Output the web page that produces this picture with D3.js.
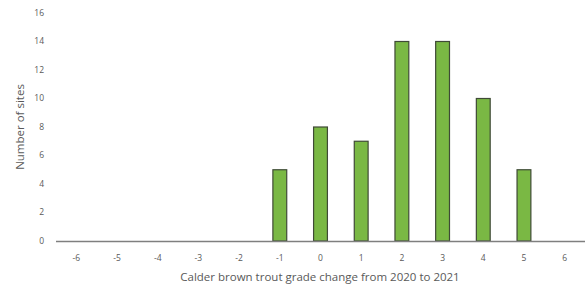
<!DOCTYPE html>
<html>
<head>
<meta charset="utf-8">
<script src="https://cdn.jsdelivr.net/npm/d3@7"></script>
<style>
  body { margin: 0; background: #fff; }
  svg text { font-family: "Open Sans", "Liberation Sans", sans-serif; fill: #595959; }
</style>
</head>
<body>
<div id="chart"></div>
<script>
// grade change categories and site counts
const categories = ["-6", "-5", "-4", "-3", "-2", "-1", "0", "1", "2", "3", "4", "5", "6"];
const siteCounts = [0, 0, 0, 0, 0, 5, 8, 7, 14, 14, 10, 5, 0];
const yTicks = [0, 2, 4, 6, 8, 10, 12, 14, 16];

const width = 585, height = 289;
const margin = {top: 13, right: 0, bottom: 48, left: 56};

const svg = d3.select("#chart").append("svg")
  .attr("width", width)
  .attr("height", height);

const x = d3.scaleBand()
  .domain(categories)
  .range([margin.left, width - margin.right])
  .paddingInner(0.66)
  .paddingOuter(0.33);

// band used for tick label positions (full step)
const xStep = d3.scaleBand()
  .domain(categories)
  .range([margin.left, width - margin.right]);

const y = d3.scaleLinear()
  .domain([0, 16])
  .range([height - margin.bottom, margin.top]);

// y tick labels (no axis line)
svg.append("g")
  .selectAll("text")
  .data(yTicks)
  .join("text")
  .attr("x", 44)
  .attr("y", d => y(d))
  .attr("dy", "0.35em")
  .attr("text-anchor", "end")
  .style("font-size", "8.5px")
  .text(d => d);

// bars
const data = categories.map((c, i) => ({cat: c, val: siteCounts[i]}));
svg.append("g")
  .selectAll("rect")
  .data(data.filter(d => d.val > 0))
  .join("rect")
  .attr("x", d => x(d.cat))
  .attr("y", d => y(d.val))
  .attr("width", x.bandwidth())
  .attr("height", d => y(0) - y(d.val))
  .attr("fill", "#7ab844")
  .attr("stroke", "#3f4a36")
  .attr("stroke-width", 1.2);

// x baseline
svg.append("line")
  .attr("x1", margin.left)
  .attr("x2", width - margin.right)
  .attr("y1", y(0) + 0.5)
  .attr("y2", y(0) + 0.5)
  .attr("stroke", "#7f7f7f")
  .attr("stroke-width", 1.3);

// x tick labels
svg.append("g")
  .selectAll("text")
  .data(categories)
  .join("text")
  .attr("x", d => xStep(d) + xStep.bandwidth() / 2)
  .attr("y", 258)
  .attr("dy", "0.35em")
  .attr("text-anchor", "middle")
  .style("font-size", "8.5px")
  .text(d => d);

// axis titles
svg.append("text")
  .attr("x", 320)
  .attr("y", 277)
  .attr("dy", "0.35em")
  .attr("text-anchor", "middle")
  .style("font-size", "11.5px")
  .text("Calder brown trout grade change from 2020 to 2021");

svg.append("text")
  .attr("transform", `translate(20,${(y(0) + y(16)) / 2}) rotate(-90)`)
  .attr("dy", "0.35em")
  .attr("text-anchor", "middle")
  .style("font-size", "11.5px")
  .text("Number of sites");
</script>
</body>
</html>
